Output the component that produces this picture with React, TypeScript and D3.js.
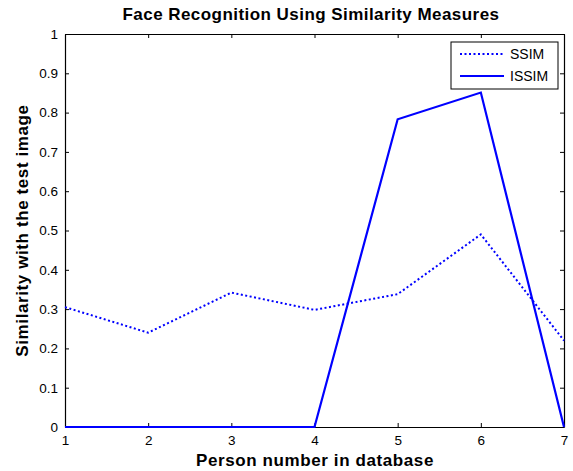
import React, { useEffect, useRef } from 'react';
import * as d3 from 'd3';

// persons in database
const persons = [1, 2, 3, 4, 5, 6, 7];
// similarity values
const ssim = [0.305, 0.24, 0.342, 0.298, 0.338, 0.49, 0.22];
const issim = [0, 0, 0, 0, 0.783, 0.851, 0];
const yTicks = [0, 0.1, 0.2, 0.3, 0.4, 0.5, 0.6, 0.7, 0.8, 0.9, 1];
const seriesNames = ['SSIM', 'ISSIM'];

const W = 573;
const H = 471;

const App = () => {
  const ref = useRef<SVGSVGElement>(null);

  useEffect(() => {
    const m = { left: 65, right: 9, top: 34, bottom: 44 };
    const iw = W - m.left - m.right;
    const ih = H - m.top - m.bottom;

    const svg = d3.select(ref.current);
    svg.selectAll('*').remove();

    svg.append('rect').attr('width', W).attr('height', H).attr('fill', '#fff');

    const x = d3.scaleLinear().domain([1, 7]).range([0, iw]);
    const y = d3.scaleLinear().domain([0, 1]).range([ih, 0]);

    const g = svg.append('g').attr('transform', `translate(${m.left},${m.top})`);
    const font = 'Liberation Sans, Arial, sans-serif';

    // axes with inward ticks (matlab look)
    const bottom = g.append('g').attr('transform', `translate(0,${ih})`)
      .call(d3.axisBottom(x).tickValues(persons).tickFormat(d3.format('d')).tickSizeInner(-4).tickSizeOuter(0).tickPadding(8));
    const left = g.append('g')
      .call(d3.axisLeft(y).tickValues(yTicks).tickFormat(d => String(+d)).tickSizeInner(-4).tickSizeOuter(0).tickPadding(7));
    const top = g.append('g')
      .call(d3.axisTop(x).tickValues(persons).tickFormat(() => '').tickSizeInner(-4).tickSizeOuter(0));
    const right = g.append('g').attr('transform', `translate(${iw},0)`)
      .call(d3.axisRight(y).tickValues(yTicks).tickFormat(() => '').tickSizeInner(-4).tickSizeOuter(0));

    [bottom, left, top, right].forEach(a => {
      a.selectAll('path').attr('stroke', '#000').attr('stroke-width', 1.2);
      a.selectAll('line').attr('stroke', '#000');
      a.selectAll('text').attr('fill', '#000').style('font-family', font).style('font-size', '13.5px');
    });

    const line = d3.line<number>()
      .x((_, i) => x(persons[i]))
      .y(d => y(d));

    g.append('path').datum(ssim)
      .attr('d', line).attr('fill', 'none')
      .attr('stroke', '#0000ff').attr('stroke-width', 2)
      .attr('stroke-dasharray', '2,2.5');

    g.append('path').datum(issim)
      .attr('d', line).attr('fill', 'none')
      .attr('stroke', '#0000ff').attr('stroke-width', 2.2);

    // legend
    const lg = g.append('g').attr('transform', `translate(${iw - 113},8)`);
    lg.append('rect').attr('width', 107).attr('height', 47)
      .attr('fill', '#fff').attr('stroke', '#000').attr('stroke-width', 1);
    seriesNames.forEach((name, i) => {
      const ly = 12 + i * 22;
      lg.append('line').attr('x1', 9).attr('x2', 53).attr('y1', ly).attr('y2', ly)
        .attr('stroke', '#0000ff').attr('stroke-width', 2)
        .attr('stroke-dasharray', i === 0 ? '2,2.5' : null);
      lg.append('text').attr('x', 59).attr('y', ly + 5)
        .style('font-family', font).style('font-size', '14px').text(name);
    });

    // title & labels
    svg.append('text').attr('x', 311).attr('y', 20)
      .attr('text-anchor', 'middle')
      .style('font-family', font).style('font-size', '17px').style('font-weight', 'bold')
      .style('letter-spacing', '0.45px')
      .text('Face Recognition Using Similarity Measures');

    svg.append('text').attr('x', 315).attr('y', 466)
      .attr('text-anchor', 'middle')
      .style('font-family', font).style('font-size', '17px').style('font-weight', 'bold')
      .style('letter-spacing', '0.6px')
      .text('Person number in database');

    svg.append('text')
      .attr('transform', `translate(28,${m.top + ih / 2}) rotate(-90)`)
      .attr('text-anchor', 'middle')
      .style('font-family', font).style('font-size', '17px').style('font-weight', 'bold')
      .style('letter-spacing', '0.6px')
      .text('Similarity with the test image');
  }, []);

  return (
    <svg ref={ref} width={W} height={H}
      style={{ position: 'absolute', left: 0, top: 0, display: 'block' }}></svg>
  );
};

export default App;
